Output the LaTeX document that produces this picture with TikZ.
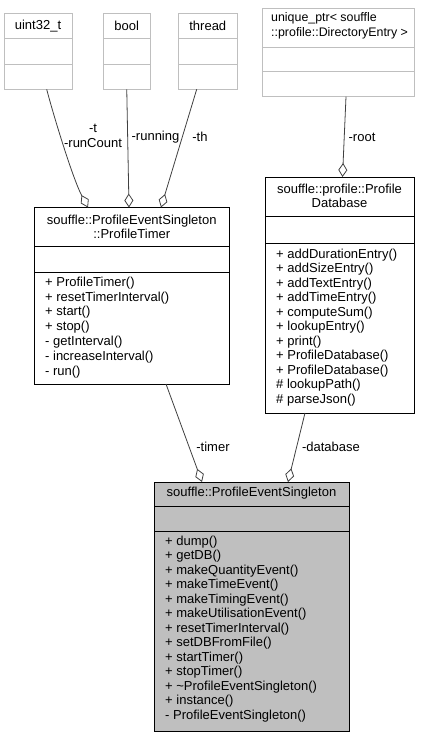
\documentclass[tikz,border=0pt]{standalone}
\usepackage{fontspec}
\setmainfont{Liberation Sans}
\usetikzlibrary{arrows.meta}

\definecolor{edgegray}{HTML}{404040}
\definecolor{fillgray}{HTML}{BFBFBF}
\definecolor{framegray}{HTML}{BFBFBF}

\tikzset{
  umlfont/.style={font=\fontsize{13}{14}\selectfont},
  classbox/.style={draw=black, line width=0.9pt, inner sep=0pt, outer sep=0pt},
  typebox/.style={draw=framegray, line width=0.9pt, inner sep=0pt, outer sep=0pt},
  classsep/.style={draw=black, line width=0.9pt},
  typesep/.style={draw=framegray, line width=0.9pt},
  title/.style={umlfont, align=center, inner sep=0pt},
  member/.style={umlfont, anchor=west, inner sep=0pt, text height=9.4pt, text depth=2.7pt},
  role/.style={font=\fontsize{13}{15.5}\selectfont, align=center, inner sep=0pt},
  aggr/.style={draw=edgegray, line width=0.8pt, -{Diamond[open, length=14pt, width=9pt]}}
}

\begin{document}
\begin{tikzpicture}[x=1pt, y=-1pt]
  \useasboundingbox (0,0) rectangle (436,739);

  % member types
  \node (uint)[typebox, minimum width=68pt, minimum height=76pt] at (38,51.3) {};
  \node (bool)[typebox, minimum width=46.7pt, minimum height=76pt] at (126.7,51.3) {};
  \node (thread)[typebox, minimum width=59pt, minimum height=76pt] at (207.8,51.3) {};
  \foreach \b in {uint, bool, thread} {
    \draw[typesep] (\b.west |- 0,38.3) -- (\b.east |- 0,38.3);
    \draw[typesep] (\b.west |- 0,64.3) -- (\b.east |- 0,64.3);
  }
  \node (uint-t)[title] at (38,25.8) {uint32\_t};
  \node (bool-t)[title] at (126.7,25.8) {bool};
  \node (thread-t)[title] at (207.8,25.8) {thread};

  \node (uptr)[typebox, minimum width=152pt, minimum height=88.4pt] at (338,52.5) {};
  \draw[typesep] (uptr.west |- 0,47.3) -- (uptr.east |- 0,47.3);
  \draw[typesep] (uptr.west |- 0,71.7) -- (uptr.east |- 0,71.7);
  \node (uptr-t)[title, font=\fontsize{12.4}{14.5}\selectfont, align=left, anchor=west] at (271,25.8)
    {unique\_ptr< souffle\\::profile::DirectoryEntry >};

  % ProfileTimer
  \node (timer)[classbox, minimum width=194.5pt, minimum height=176.5pt] at (131.75,295.75) {};
  \draw[classsep] (timer.west |- 0,246) -- (timer.east |- 0,246);
  \draw[classsep] (timer.west |- 0,272) -- (timer.east |- 0,272);
  \node (timer-t)[title] at (131.75,226.5) {souffle::ProfileEventSingleton\\::ProfileTimer};
  \foreach \m [count=\i from 0] in {+ ProfileTimer(), + resetTimerInterval(), + start(), + stop(),
      - getInterval(), - increaseInterval(), - run()}
    \node (timer-m\i)[member] at (45,{283+14.8*\i}) {\m};

  % ProfileDatabase
  \node (db)[classbox, minimum width=149pt, minimum height=236pt] at (339.5,295) {};
  \draw[classsep] (db.west |- 0,216) -- (db.east |- 0,216);
  \draw[classsep] (db.west |- 0,243) -- (db.east |- 0,243);
  \node (db-t)[title] at (339.5,196) {souffle::profile::Profile\\Database};
  \foreach \m [count=\i from 0] in {+ addDurationEntry(), + addSizeEntry(), + addTextEntry(),
      + addTimeEntry(), + computeSum(), + lookupEntry(), + print(), + ProfileDatabase(),
      + ProfileDatabase(), \# lookupPath(), \# parseJson()}
    \node (db-m\i)[member] at (276,{255+14.5*\i}) {\m};

  % ProfileEventSingleton
  \node (pes)[classbox, fill=fillgray, minimum width=195pt, minimum height=249.5pt] at (251.5,606.75) {};
  \draw[classsep] (pes.west |- 0,506) -- (pes.east |- 0,506);
  \draw[classsep] (pes.west |- 0,531) -- (pes.east |- 0,531);
  \node (pes-t)[title] at (251.5,493.5) {souffle::ProfileEventSingleton};
  \foreach \m [count=\i from 0] in {+ dump(), + getDB(), + makeQuantityEvent(), + makeTimeEvent(),
      + makeTimingEvent(), + makeUtilisationEvent(), + resetTimerInterval(), + setDBFromFile(),
      + startTimer(), + stopTimer(), + \textasciitilde ProfileEventSingleton(), + instance(),
      - ProfileEventSingleton()}
    \node (pes-m\i)[member] at (165,{542+14.5*\i}) {\m};

  % aggregations
  \draw[aggr] ([xshift=42.7pt]uint.south west) .. controls (52,110) and (72,177) .. ([xshift=53.5pt]timer.north west);
  \draw[aggr] ([xshift=23.4pt]bool.south west) -- ([xshift=94.5pt]timer.north west);
  \draw[aggr] ([xshift=18.4pt]thread.south west) -- ([xshift=126.5pt]timer.north west);
  \draw[aggr] ([xshift=84pt]uptr.south west) -- ([xshift=77.5pt]db.north west);
  \draw[aggr] ([xshift=131.5pt]timer.south west) -- ([xshift=48pt]pes.north west);
  \draw[aggr] ([xshift=40pt]db.south west) -- ([xshift=134pt]pes.north west);

  \node (l-t)[role] at (93,136) {-t\\-runCount};
  \node (l-run)[role] at (155.5,137) {-running};
  \node (l-th)[role] at (200,137) {-th};
  \node (l-root)[role] at (362,137) {-root};
  \node (l-timer)[role] at (213,447) {-timer};
  \node (l-db)[role] at (331,447) {-database};
\end{tikzpicture}
\end{document}
